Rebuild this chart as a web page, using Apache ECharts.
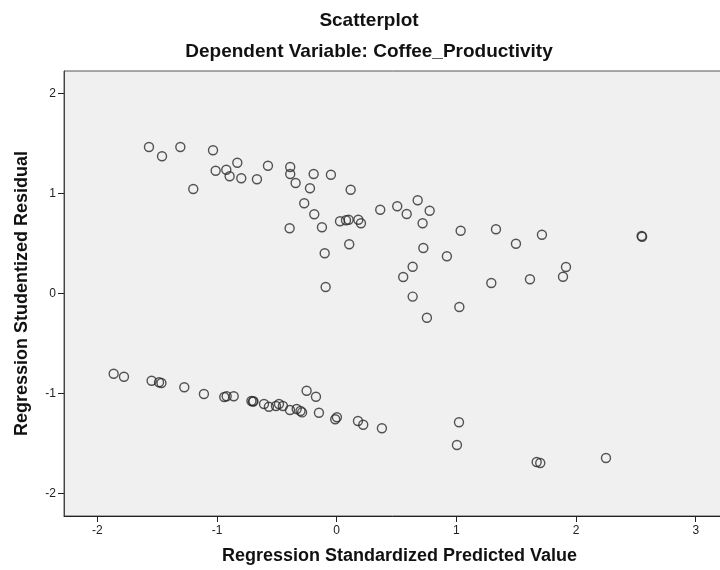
<!DOCTYPE html>
<html>
<head>
<meta charset="utf-8">
<script src="https://cdn.jsdelivr.net/npm/echarts@6/dist/echarts.min.js"></script>
<style>html,body{margin:0;padding:0;background:#fff}#c{width:720px;height:570px}</style>
</head>
<body>
<div id="c"></div>
<script>
var titleText = 'Scatterplot';
var subtitleText = 'Dependent Variable: Coffee_Productivity';
var xAxisTitle = 'Regression Standardized Predicted Value';
var yAxisTitle = 'Regression Studentized Residual';
var xTicks = [-2, -1, 0, 1, 2, 3];
var yTicks = [-2, -1, 0, 1, 2];

var predicted = [
  -1.568, -1.459, -1.306, -1.198, -1.033, -1.011, -0.922, -0.894, -0.830, -0.797,
  -0.666, -0.574, -0.388, -0.388, -0.343, -0.192, -0.048, -0.223, 0.117, -0.271,
  -0.187, -0.393, -0.123, 0.028, 0.078, 0.100, 0.181, 0.203, 0.364, 0.506,
  0.585, 0.677, 0.777, 0.718, 1.036, 1.331, 1.715, 2.548, 2.552, 0.105,
  -0.100, -0.092, 0.724, 0.921, 0.635, 0.556, 0.635, 0.754, 1.025, 1.292,
  1.498, 1.916, 1.891, 1.615,
  -1.863, -1.777, -1.546, -1.484, -1.464, -1.273, -1.109, -0.939, -0.919, -0.860,
  -0.712, -0.700, -0.695, -0.607, -0.566, -0.507, -0.482, -0.449, -0.390, -0.334,
  -0.302, -0.289, -0.251, -0.173, -0.148, -0.012, 0.002, 0.178, 0.222, 0.378,
  1.022, 1.005, 1.671, 1.701, 2.250
];
var residual = [
  1.463, 1.370, 1.463, 1.043, 1.430, 1.226, 1.236, 1.170, 1.306, 1.150,
  1.140, 1.276, 1.263, 1.193, 1.103, 1.193, 1.186, 1.050, 1.036, 0.900,
  0.790, 0.650, 0.660, 0.720, 0.730, 0.736, 0.736, 0.700, 0.836, 0.870,
  0.793, 0.930, 0.826, 0.700, 0.626, 0.640, 0.586, 0.573, 0.566, 0.490,
  0.400, 0.063, 0.453, 0.370, 0.266, 0.163, -0.033, -0.244, -0.137, 0.103,
  0.496, 0.263, 0.166, 0.140,
  -0.804, -0.834, -0.874, -0.889, -0.897, -0.940, -1.007, -1.037, -1.030, -1.030,
  -1.077, -1.083, -1.080, -1.107, -1.134, -1.127, -1.107, -1.127, -1.167, -1.157,
  -1.177, -1.191, -0.974, -1.034, -1.194, -1.260, -1.240, -1.277, -1.314, -1.350,
  -1.290, -1.517, -1.687, -1.697, -1.647
];

var points = predicted.map(function (x, i) { return [x, residual[i]]; });
var font = '"Liberation Sans", Arial, sans-serif';

var chart = echarts.init(document.getElementById('c'), null, {renderer: 'canvas'});
chart.setOption({
  animation: false,
  backgroundColor: '#ffffff',
  graphic: [
    {type: 'text', x: 369, y: 21, silent: true,
     style: {text: titleText, align: 'center', verticalAlign: 'middle',
             font: 'bold 19px ' + font, fill: '#111'}},
    {type: 'text', x: 369, y: 52, silent: true,
     style: {text: subtitleText, align: 'center', verticalAlign: 'middle',
             font: 'bold 19px ' + font, fill: '#111'}}
  ],
  grid: {left: 64, top: 71, width: 671, bottom: 54, show: true,
         outerBoundsMode: 'none', containLabel: false,
         backgroundColor: '#f0f0f0', borderColor: '#555', borderWidth: 1},
  xAxis: {
    type: 'value', min: -2.278, max: 3.328,
    name: xAxisTitle, nameLocation: 'middle', nameGap: 31,
    nameTextStyle: {fontFamily: font, fontSize: 18, fontWeight: 'bold', color: '#111'},
    axisLine: {show: true, onZero: false, lineStyle: {color: '#222', width: 1}},
    axisTick: {show: true, length: 6, customValues: xTicks, lineStyle: {color: '#222'}},
    axisLabel: {customValues: xTicks, margin: 9, fontFamily: font, fontSize: 12, color: '#222'},
    splitLine: {show: false}
  },
  yAxis: {
    type: 'value', min: -2.227, max: 2.223,
    name: yAxisTitle, nameLocation: 'middle', nameGap: 33, nameRotate: 90,
    nameTextStyle: {fontFamily: font, fontSize: 18, fontWeight: 'bold', color: '#111'},
    axisLine: {show: true, onZero: false, lineStyle: {color: '#444', width: 1}},
    axisTick: {show: true, length: 6, customValues: yTicks, lineStyle: {color: '#222'}},
    axisLabel: {customValues: yTicks, margin: 8, fontFamily: font, fontSize: 12, color: '#222'},
    splitLine: {show: false}
  },
  series: [{
    type: 'scatter',
    data: points,
    symbol: 'circle',
    symbolSize: 9,
    itemStyle: {color: 'rgba(0,0,0,0)', borderColor: '#2a2a2a', borderWidth: 1.4}
  }]
});
</script>
</body>
</html>
